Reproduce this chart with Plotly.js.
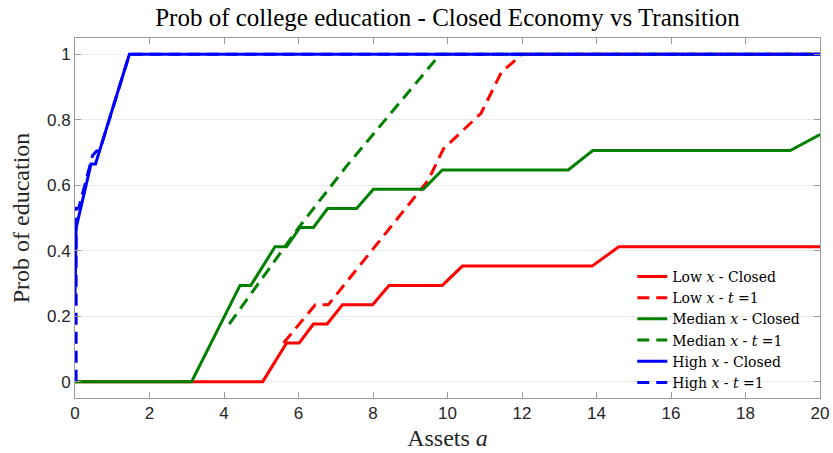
<!DOCTYPE html>
<html>
<head>
<meta charset="utf-8">
<script src="https://cdn.plot.ly/plotly-3.0.1.min.js"></script>
<style>
  html, body { margin: 0; padding: 0; background: #fff; }
  #chart { width: 833px; height: 453px; }
</style>
</head>
<body>
<div id="chart"></div>
<script>
// Probability of college education by assets, closed economy vs first transition period
const lowClosedX  = [0, 5.04, 5.68, 6.02, 6.4, 6.77, 7.18, 7.99, 8.43, 9.86, 10.4, 13.88, 14.6, 20];
const lowClosedY  = [0, 0, 0.118, 0.118, 0.176, 0.176, 0.235, 0.235, 0.294, 0.294, 0.353, 0.353, 0.412, 0.412];

const lowT1X = [5.6, 6.45, 6.8, 9.48, 9.89, 10.9, 11.45, 12.0, 20];
const lowT1Y = [0.118, 0.235, 0.235, 0.615, 0.711, 0.82, 0.946, 1, 1];

const medClosedX = [0, 3.13, 4.43, 4.72, 5.37, 5.68, 6.04, 6.4, 6.78, 7.56, 8.01, 9.35, 9.86, 13.24, 13.9, 19.2, 20];
const medClosedY = [0, 0, 0.294, 0.294, 0.412, 0.412, 0.471, 0.471, 0.529, 0.529, 0.588, 0.588, 0.647, 0.647, 0.706, 0.706, 0.755];

const medT1X = [4.14, 6.0, 7.3, 9.8, 20];
const medT1Y = [0.176, 0.47, 0.66, 1, 1];

const highClosedX = [0, 0.03, 0.43, 0.55, 1.46, 20];
const highClosedY = [0.26, 0.47, 0.665, 0.665, 1, 1];

const highT1X = [0.03, 0.03, 0.1, 0.47, 0.58, 0.66, 1.46, 20];
const highT1Y = [0, 0.53, 0.53, 0.69, 0.705, 0.705, 1, 1];

const xTicks = [0, 2, 4, 6, 8, 10, 12, 14, 16, 18, 20];
const yTicks = [0, 0.2, 0.4, 0.6, 0.8, 1];
const yTickText = ['0', '0.2', '0.4', '0.6', '0.8', '1'];

const RED = '#ff0000', GREEN = '#008000', BLUE = '#0000ff';
const LW = 3;
const DASH = '12px,7px';

function series(x, y, name, color, dashed) {
  return {
    x: x, y: y, name: name, type: 'scatter', mode: 'lines',
    line: { color: color, width: LW, dash: dashed ? DASH : 'solid' },
    hoverinfo: 'skip'
  };
}

const data = [
  series(lowClosedX, lowClosedY, 'Low <i>x</i> - Closed', RED, false),
  series(lowT1X, lowT1Y, 'Low <i>x</i> - <i>t</i> =1', RED, true),
  series(medClosedX, medClosedY, 'Median <i>x</i> - Closed', GREEN, false),
  series(medT1X, medT1Y, 'Median <i>x</i> - <i>t</i> =1', GREEN, true),
  series(highClosedX, highClosedY, 'High <i>x</i> - Closed', BLUE, false),
  series(highT1X, highT1Y, 'High <i>x</i> - <i>t</i> =1', BLUE, true)
];

const SERIF = 'Liberation Serif, DejaVu Serif, serif';
const WIDE_SERIF = 'DejaVu Serif, Liberation Serif, serif';
const SANS = 'Liberation Sans, Arial, sans-serif';

const axisCommon = {
  showline: true, linecolor: '#9a9a9a', linewidth: 1,
  mirror: 'ticks', ticks: 'inside', ticklen: 6, tickcolor: '#9a9a9a', tickwidth: 1,
  tickfont: { family: SANS, size: 17, color: '#262626' },
  zeroline: false
};

const layout = {
  width: 833, height: 453,
  margin: { l: 75, r: 13, t: 38, b: 55, pad: 0 },
  paper_bgcolor: '#ffffff', plot_bgcolor: '#ffffff',
  title: {
    text: 'Prob of college education - Closed Economy vs Transition',
    font: { family: SERIF, size: 25, color: '#000' },
    x: 0.5, xanchor: 'center', xref: 'paper', y: 0.962, yanchor: 'middle', yref: 'container'
  },
  xaxis: Object.assign({}, axisCommon, {
    range: [0, 20], tickvals: xTicks, showgrid: false,
    title: { text: 'Assets <i>a</i>', font: { family: SERIF, size: 24, color: '#262626' }, standoff: 6 }
  }),
  yaxis: Object.assign({}, axisCommon, {
    range: [-0.05, 1.05], tickvals: yTicks, ticktext: yTickText,
    showgrid: true, gridcolor: '#ebebeb', gridwidth: 1,
    title: { text: 'Prob of education', font: { family: SERIF, size: 24, color: '#262626' }, standoff: 10 }
  }),
  showlegend: true,
  legend: {
    x: 0.748, xanchor: 'left', y: 0.381, yanchor: 'top',
    bgcolor: 'rgba(255,255,255,0)', borderwidth: 0,
    font: { family: WIDE_SERIF, size: 14, color: '#000' },
    tracegroupgap: 0
  }
};

Plotly.newPlot('chart', data, layout, { displayModeBar: false, staticPlot: true });
</script>
</body>
</html>
